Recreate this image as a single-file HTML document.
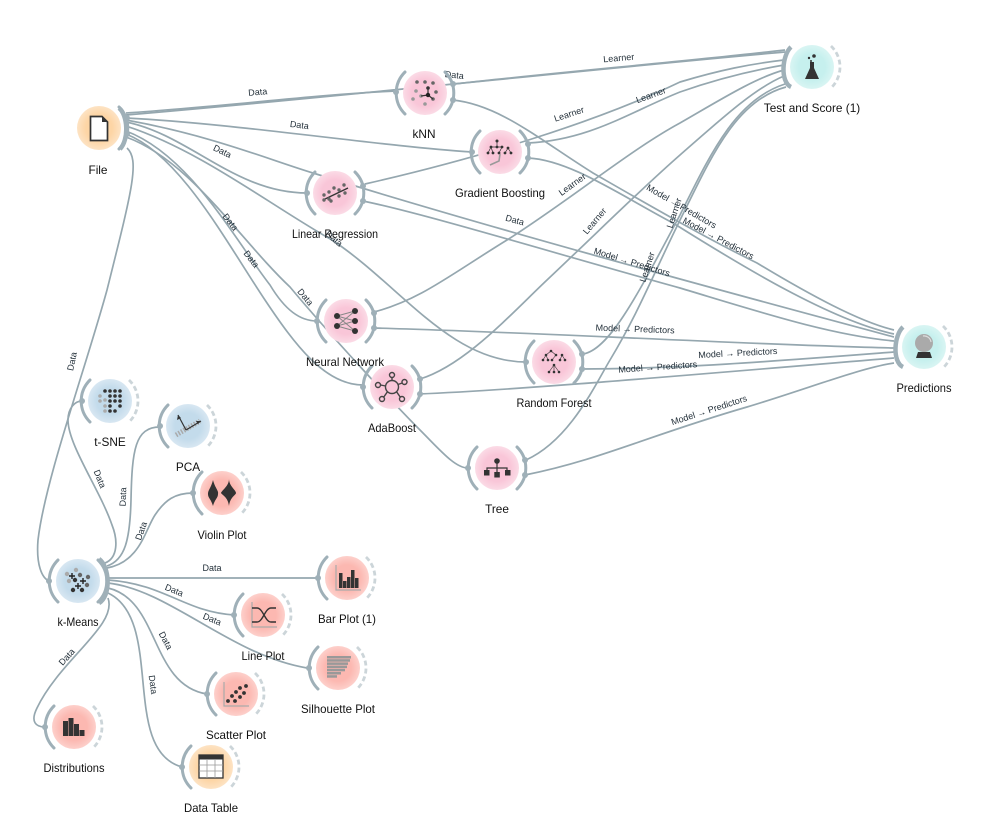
<!DOCTYPE html>
<html><head><meta charset="utf-8"><style>
html,body{margin:0;padding:0;background:#fff}
svg{display:block;filter:blur(.3px)}
text{font-family:"Liberation Sans",sans-serif}
.n{font-size:11.8px;fill:#111;text-anchor:middle}
.l{font-size:9px;fill:#1f2c36;text-anchor:middle}
.c{fill:none;stroke:#95a7af;stroke-width:1.7}
.a{fill:none;stroke:#9fb0b8;stroke-width:3;stroke-linecap:round}
.d{fill:none;stroke:#ccd5d9;stroke-width:2.8;stroke-dasharray:5 3}
.p{fill:#9fb0b8}
.k{fill:#333;stroke:none}
</style></head><body>
<svg width="1004" height="821" viewBox="0 0 1004 821" xmlns="http://www.w3.org/2000/svg">
<defs>
<radialGradient id="go"><stop offset="0.6" stop-color="#fdd5a5"/><stop offset="1" stop-color="#fde3c4"/></radialGradient>
<radialGradient id="gp"><stop offset="0.6" stop-color="#f9c6d8"/><stop offset="1" stop-color="#fbdbe6"/></radialGradient>
<radialGradient id="gc"><stop offset="0.6" stop-color="#c6f0ee"/><stop offset="1" stop-color="#d9f5f3"/></radialGradient>
<radialGradient id="gb"><stop offset="0.6" stop-color="#c3dbeb"/><stop offset="1" stop-color="#d8e7f2"/></radialGradient>
<radialGradient id="gr"><stop offset="0.6" stop-color="#fcb8b1"/><stop offset="1" stop-color="#fdd0cb"/></radialGradient>
<path id="al" class="a" d="M-20,-21A29.5,29.5 0 0 0 -20,21"/>
<path id="ar" class="a" d="M20,-21A29.5,29.5 0 0 1 20,21"/>
<path id="dr" class="d" d="M19,-21A29,29 0 0 1 19,21"/>
</defs>

<!-- connectors: File -->
<path class="c" d="M126,113C230,106 310,95 396,91"/>
<path class="c" d="M126,115C350,96 600,68 785,52"/>
<path class="c" d="M126,118C240,124 370,145 472,152"/>
<path class="c" d="M126,122C190,135 235,193 307,193"/>
<path class="c" d="M126,120C210,135 270,160 313,173C480,225 700,285 894,337"/>
<path class="c" d="M126,126C200,150 270,205 332,240C400,285 450,362 526,362"/>
<path class="c" d="M126,131C190,155 235,240 270,285C285,310 300,321 317,321"/>
<path class="c" d="M126,134C180,155 225,240 265,300C295,345 325,385 363,385"/>
<path class="c" d="M126,137C190,160 240,240 290,287C330,335 395,405 420,430C440,450 455,468 468,468"/>
<path class="c" d="M127,148C140,160 132,190 107,290C85,370 45,480 38,540C36,565 42,578 49,581"/>
<!-- Learner to Test -->
<path class="c" d="M454,84C560,72 680,62 785,50"/>
<path class="c" d="M365,184C470,160 590,125 680,82C720,70 750,64 784,60"/>
<path class="c" d="M528,143C590,140 630,112 680,92C720,78 755,70 784,65"/>
<path class="c" d="M374,312C420,300 450,275 507,240C570,200 630,150 680,123C720,100 755,78 784,70"/>
<path class="c" d="M420,379C465,365 510,315 547,280C600,230 640,190 680,155C720,120 755,88 784,76"/>
<path class="c" d="M583,354C610,350 640,290 680,215C710,155 735,100 785,84"/>
<path class="c" d="M526,460C570,440 595,385 610,360C640,310 655,270 684,212C712,155 737,100 786,87"/>
<!-- Model to Predictions -->
<path class="c" d="M453,100C500,105 540,140 593,173C640,200 700,235 757,263C810,295 860,322 894,330"/>
<path class="c" d="M528,158C570,160 620,195 673,223C740,265 830,320 894,334"/>
<path class="c" d="M363,201C430,215 560,255 680,288C760,312 830,335 894,341"/>
<path class="c" d="M373,328C450,330 540,334 610,337C720,342 810,346 894,348"/>
<path class="c" d="M582,369C680,369 790,360 894,352"/>
<path class="c" d="M418,394C520,390 700,374 894,358"/>
<path class="c" d="M525,475C600,460 650,435 747,407C810,388 860,368 894,363"/>
<!-- k-Means -->
<path class="c" d="M105,563C118,558 118,540 112,525C100,490 68,445 68,420C68,408 75,401 82,401"/>
<path class="c" d="M107,566C125,560 130,540 131,500C132,450 135,427 160,427"/>
<path class="c" d="M107,568C140,562 145,530 155,515C165,500 175,493 193,493"/>
<path class="c" d="M107,578L318,578"/>
<path class="c" d="M108,580C165,584 185,612 234,615"/>
<path class="c" d="M108,583C170,590 230,655 307,668"/>
<path class="c" d="M108,588C160,600 150,685 207,694"/>
<path class="c" d="M108,593C165,620 120,750 182,767"/>
<path class="c" d="M108,598C118,625 60,660 37,708C30,722 36,727 45,727"/>

<!-- connector labels -->
<g class="l">
<text x="0" y="0" transform="translate(258,95) rotate(-5)">Data</text>
<text transform="translate(454,78) rotate(6)">Data</text>
<text transform="translate(299,128) rotate(7)">Data</text>
<text transform="translate(221,154) rotate(26)">Data</text>
<text transform="translate(332,241) rotate(40)">Data</text>
<text transform="translate(228,224) rotate(52)">Data</text>
<text transform="translate(249,261) rotate(52)">Data</text>
<text transform="translate(303,299) rotate(50)">Data</text>
<text transform="translate(514,223) rotate(15)">Data</text>
<text transform="translate(75,362) rotate(-78)">Data</text>
<text transform="translate(97,480) rotate(68)">Data</text>
<text transform="translate(126,497) rotate(-88)">Data</text>
<text transform="translate(144,532) rotate(-70)">Data</text>
<text transform="translate(212,571)">Data</text>
<text transform="translate(173,593) rotate(22)">Data</text>
<text transform="translate(211,622) rotate(22)">Data</text>
<text transform="translate(163,642) rotate(62)">Data</text>
<text transform="translate(150,685) rotate(82)">Data</text>
<text transform="translate(69,659) rotate(-48)">Data</text>
<text transform="translate(619,61) rotate(-5)">Learner</text>
<text transform="translate(570,117) rotate(-18)">Learner</text>
<text transform="translate(652,98) rotate(-20)">Learner</text>
<text transform="translate(574,187) rotate(-36)">Learner</text>
<text transform="translate(597,223) rotate(-50)">Learner</text>
<text transform="translate(677,214) rotate(-72)">Learner</text>
<text transform="translate(650,268) rotate(-72)">Learner</text>
<text transform="translate(680,209) rotate(30)">Model → Predictors</text>
<text transform="translate(717,241) rotate(28)">Model → Predictors</text>
<text transform="translate(631,265) rotate(17)">Model → Predictors</text>
<text transform="translate(635,332) rotate(2)">Model → Predictors</text>
<text transform="translate(738,356) rotate(-3)">Model → Predictors</text>
<text transform="translate(658,370) rotate(-4)">Model → Predictors</text>
<text transform="translate(710,413) rotate(-18)">Model → Predictors</text>
</g>

<!-- File -->
<g transform="translate(99,128)"><circle r="22" fill="url(#go)"/><use href="#ar"/>
<path d="M-8.5,-11.5H3L8.5,-6V12.5H-8.5Z" fill="#fff" stroke="#333" stroke-width="1.7"/><path d="M3,-11.5V-6H8.5Z" fill="#333"/></g>
<circle class="p" cx="127" cy="118" r="3"/><circle class="p" cx="127" cy="134" r="3"/>
<path d="M119,108C128,115 129,140 120,149" fill="none" stroke="#9fb0b8" stroke-width="4.5"/>
<!-- kNN -->
<g transform="translate(425,93)"><circle r="22" fill="url(#gp)"/><use href="#al"/><use href="#ar"/>
<g fill="#666"><circle cx="-8" cy="-11" r="1.8"/><circle cx="0" cy="-11" r="1.8"/><circle cx="8" cy="-10" r="1.8"/><circle cx="11" cy="-1" r="1.8"/><circle cx="8" cy="6" r="1.8"/></g>
<g fill="#999"><circle cx="-9" cy="-2" r="1.8"/><circle cx="-12" cy="6" r="1.8"/><circle cx="-4" cy="3" r="1.8"/><circle cx="0" cy="11" r="1.8"/></g>
<path d="M3,2L3,-5M3,2L-4,3M3,2L8,6" stroke="#333" stroke-width="1.2"/><circle cx="3" cy="2" r="2.2" fill="#222"/><circle cx="3" cy="-5" r="1.8" fill="#333"/></g>
<circle class="p" cx="396" cy="92" r="3"/><circle class="p" cx="453" cy="84" r="3"/><circle class="p" cx="453" cy="100" r="3"/>
<!-- Gradient Boosting -->
<g transform="translate(500,152)"><circle r="22" fill="url(#gp)"/><use href="#al"/><use href="#ar"/>
<g class="k"><circle cx="-3" cy="-11" r="1.5"/><circle cx="-9" cy="-5" r="1.4"/><circle cx="-3" cy="-5" r="1.4"/><circle cx="2" cy="-5" r="1.4"/><circle cx="-12" cy="1" r="1.4"/><circle cx="-7" cy="1" r="1.4"/><circle cx="-1" cy="1" r="1.4"/><circle cx="8" cy="-4" r="1.4"/><circle cx="5" cy="1" r="1.4"/><circle cx="11" cy="1" r="1.4"/></g>
<path d="M-3,-11V-5M-9,-5H2M-9,-5L-12,1M-9,-5L-7,1M2,-5L-1,1M8,-4L5,1M8,-4L11,1" stroke="#333" stroke-width=".7"/>
<path d="M-10,13L-1,9L0,2" fill="none" stroke="#999" stroke-width="1.6"/></g>
<circle class="p" cx="472" cy="152" r="3"/><circle class="p" cx="528" cy="144" r="3"/><circle class="p" cx="528" cy="158" r="3"/>
<!-- Linear Regression -->
<g transform="translate(335,193)"><circle r="22" fill="url(#gp)"/><use href="#al"/><use href="#ar"/>
<path d="M-12,7L13,-5" stroke="#333" stroke-width="1.3"/>
<g fill="#666"><circle cx="-11" cy="2" r="1.7"/><circle cx="-6" cy="-1" r="1.7"/><circle cx="-1" cy="-5" r="1.7"/><circle cx="-6" cy="6" r="1.7"/><circle cx="-11" cy="7" r="1.7"/><circle cx="4" cy="-3" r="1.7"/><circle cx="9" cy="-8" r="1.7"/><circle cx="4" cy="3" r="1.7"/><circle cx="10" cy="0" r="1.7"/><circle cx="-4" cy="8" r="1.7"/></g></g>
<circle class="p" cx="307" cy="193" r="3"/><circle class="p" cx="363" cy="186" r="3"/><circle class="p" cx="363" cy="201" r="3"/>
<!-- Neural Network -->
<g transform="translate(346,321)"><circle r="22" fill="url(#gp)"/><use href="#al"/><use href="#ar"/>
<path d="M-9,-5L9,-10M-9,-5L9,0M-9,-5L9,10M-9,5L9,-10M-9,5L9,0M-9,5L9,10" stroke="#888" stroke-width="1"/>
<g class="k"><circle cx="-9" cy="-5" r="3"/><circle cx="-9" cy="5" r="3"/><circle cx="9" cy="-10" r="3"/><circle cx="9" cy="0" r="3"/><circle cx="9" cy="10" r="3"/></g></g>
<circle class="p" cx="317" cy="321" r="3"/><circle class="p" cx="374" cy="313" r="3"/><circle class="p" cx="374" cy="328" r="3"/>
<!-- Tree -->
<g transform="translate(497,468)"><circle r="22" fill="url(#gp)"/><use href="#al"/><use href="#ar"/>
<circle cy="-7" r="2.8" fill="#333"/><path d="M0,-7V5M-10,5V0H10V5" fill="none" stroke="#333" stroke-width="1.2"/>
<g class="k"><rect x="-13" y="2" width="5.5" height="5.5"/><rect x="-2.7" y="4" width="5.5" height="5.5"/><rect x="8" y="2" width="5.5" height="5.5"/></g></g>
<circle class="p" cx="468" cy="468" r="3"/><circle class="p" cx="525" cy="460" r="3"/><circle class="p" cx="525" cy="475" r="3"/>
<!-- Random Forest -->
<g transform="translate(554,362)"><circle r="22" fill="url(#gp)"/><use href="#al"/><use href="#ar"/>
<g class="k"><circle cx="-3" cy="-11" r="1.3"/><circle cx="-8" cy="-7" r="1.3"/><circle cx="2" cy="-7" r="1.3"/><circle cx="-11" cy="-2" r="1.3"/><circle cx="-6" cy="-2" r="1.3"/><circle cx="-2" cy="-2" r="1.3"/><circle cx="8" cy="-7" r="1.3"/><circle cx="6" cy="-2" r="1.3"/><circle cx="11" cy="-2" r="1.3"/><circle cx="0" cy="3" r="1.3"/><circle cx="-5" cy="10" r="1.3"/><circle cx="0" cy="10" r="1.3"/><circle cx="5" cy="10" r="1.3"/></g>
<path d="M-3,-11L-8,-7M-3,-11L2,-7M-8,-7L-11,-2M-8,-7L-6,-2M2,-7L-2,-2M8,-7L6,-2M8,-7L11,-2M0,3L-5,10M0,3V10M0,3L5,10" stroke="#333" stroke-width=".6"/></g>
<circle class="p" cx="526" cy="362" r="3"/><circle class="p" cx="582" cy="354" r="3"/><circle class="p" cx="582" cy="369" r="3"/>
<!-- AdaBoost -->
<g transform="translate(392,387)"><circle r="22" fill="url(#gp)"/><use href="#al"/><use href="#ar"/>
<g fill="none" stroke="#444" stroke-width="1.4"><circle r="6.5"/><circle cx="0" cy="-12" r="2.5"/><circle cx="12.5" cy="-5" r="2.5"/><circle cx="10" cy="12" r="2.5"/><circle cx="-10" cy="12" r="2.5"/><circle cx="-14" cy="-2" r="2.5"/><path d="M0,-6.5V-9.5M6,-2.5L10.2,-4M4.5,4.7L8.2,10M-4.5,4.7L-8.2,10M-6.3,-1L-11.5,-2"/></g></g>
<circle class="p" cx="363" cy="387" r="3"/><circle class="p" cx="420" cy="379" r="3"/><circle class="p" cx="420" cy="394" r="3"/>
<!-- Test and Score -->
<g transform="translate(812,67)"><circle r="22" fill="url(#gc)"/><use href="#dr"/>
<path d="M-2,-5H2V1L7,12H-7L-2,1Z" fill="#333"/><g class="k"><circle cx="-1" cy="-6" r="1"/><circle cx="-3" cy="-9" r="1.2"/><circle cx="2" cy="-11" r="1.8"/></g></g>
<path d="M791,47C782,55 780,82 791,87" fill="none" stroke="#9fb0b8" stroke-width="4.5"/>
<!-- Predictions -->
<g transform="translate(924,347)"><circle r="22" fill="url(#gc)"/><use href="#dr"/>
<circle cy="-4" r="9" fill="#aaa"/><path d="M-1,-11A7,7 0 0 1 7,-5" stroke="#ddd" stroke-width="1.2" fill="none"/><path d="M-6,5H6L8,11H-8Z" fill="#333"/></g>
<path d="M903,327C894,335 892,362 903,367" fill="none" stroke="#9fb0b8" stroke-width="4.5"/>
<!-- t-SNE -->
<g transform="translate(110,401)"><circle r="22" fill="url(#gb)"/><use href="#al"/><use href="#dr"/>
<g fill="#333"><circle cx="-5" cy="-10" r="1.8"/><circle cx="0" cy="-10" r="1.8"/><circle cx="5" cy="-10" r="1.8"/><circle cx="10" cy="-10" r="1.8"/><circle cx="0" cy="-5" r="1.8"/><circle cx="5" cy="-5" r="1.8"/><circle cx="10" cy="-5" r="1.8"/><circle cx="0" cy="0" r="1.8"/><circle cx="5" cy="0" r="1.8"/><circle cx="10" cy="0" r="1.8"/><circle cx="0" cy="5" r="1.8"/><circle cx="10" cy="5" r="1.8"/><circle cx="0" cy="10" r="1.8"/><circle cx="5" cy="10" r="1.8"/></g>
<g fill="#aaa"><circle cx="-10" cy="-5" r="1.8"/><circle cx="-10" cy="0" r="1.8"/><circle cx="-5" cy="5" r="1.8"/><circle cx="-5" cy="10" r="1.8"/><circle cx="-5" cy="-1" r="1.8"/></g></g>
<circle class="p" cx="82" cy="401" r="3"/>
<!-- PCA -->
<g transform="translate(188,426)"><circle r="22" fill="url(#gb)"/><use href="#al"/><use href="#dr"/>
<path d="M-12,9L12,-5" stroke="#aaa" stroke-width="5" stroke-dasharray="1.5 1.5"/>
<path d="M-2,4L-10,-11M-2,4L13,-5" stroke="#333" stroke-width="1.2"/><path d="M-10,-11L-11,-6L-7,-8ZM13,-5L8,-5L10,-2Z" fill="#333"/></g>
<circle class="p" cx="160" cy="426" r="3"/>
<!-- Violin -->
<g transform="translate(222,493)"><circle r="22" fill="url(#gr)"/><use href="#al"/><use href="#dr"/>
<path d="M-9,-13C-7,-5 -3,-2 -4,1C-4,5 -7,6 -9,13C-11,6 -14,5 -14,1C-14,-3 -11,-5 -9,-13Z" fill="#333"/>
<path d="M7,-14C7,-7 14,-3 14,0C14,2 8,4 7,13C6,4 0,2 -1,0C0,-3 7,-7 7,-14Z" fill="#333"/></g>
<circle class="p" cx="193" cy="493" r="3"/>
<!-- k-Means -->
<g transform="translate(78,581)"><circle r="22" fill="url(#gb)"/><use href="#al"/><use href="#ar"/>
<g fill="#aaa"><circle cx="-11" cy="-7" r="2.2"/><circle cx="-2" cy="-11" r="2.2"/><circle cx="-9" cy="0" r="2.2"/></g>
<g fill="#666"><circle cx="2" cy="-6" r="2.2"/><circle cx="10" cy="-4" r="2.2"/><circle cx="9" cy="4" r="2.2"/></g>
<g fill="#333"><circle cx="-3" cy="-1" r="2.2"/><circle cx="-5" cy="9" r="2.2"/><circle cx="4" cy="9" r="2.2"/></g>
<path d="M-9,-5H-3M-6,-8V-2M2,0H8M5,-3V3M-3,5H3M0,2V8" stroke="#222" stroke-width="1.4"/></g>
<circle class="p" cx="49" cy="581" r="3"/>
<path d="M99,559C110,567 111,596 99,603" fill="none" stroke="#9fb0b8" stroke-width="4.5"/>
<!-- Bar Plot -->
<g transform="translate(347,578)"><circle r="22" fill="url(#gr)"/><use href="#al"/><use href="#dr"/>
<path d="M-11,-13V12H14" fill="none" stroke="#aaa" stroke-width="1.2"/>
<g class="k"><rect x="-8" y="-5" width="3.5" height="15"/><rect x="-4" y="3" width="3.5" height="7"/><rect x="0" y="-1" width="3.5" height="11"/><rect x="4" y="-8" width="3.5" height="18"/><rect x="8" y="0" width="3.5" height="10"/></g></g>
<circle class="p" cx="318" cy="578" r="3"/>
<!-- Line Plot -->
<g transform="translate(263,615)"><circle r="22" fill="url(#gr)"/><use href="#al"/><use href="#dr"/>
<path d="M-11,-13V12H14" fill="none" stroke="#aaa" stroke-width="1.2"/>
<path d="M-11,-7H-6C0,-7 2,7 8,7H13M-11,7H-6C0,7 2,-7 8,-7H13" fill="none" stroke="#333" stroke-width="1.4"/></g>
<circle class="p" cx="234" cy="615" r="3"/>
<!-- Silhouette -->
<g transform="translate(338,668)"><circle r="22" fill="url(#gr)"/><use href="#al"/><use href="#dr"/>
<g fill="#999"><rect x="-11" y="-12" width="24" height="2.5"/><rect x="-11" y="-8.8" width="23" height="2.5"/><rect x="-11" y="-5.6" width="21" height="2.5"/><rect x="-11" y="-2.4" width="20" height="2.5"/><rect x="-11" y="0.8" width="18" height="2.5"/><rect x="-11" y="4" width="14" height="2.5"/><rect x="-11" y="7.2" width="10" height="2.5"/></g></g>
<circle class="p" cx="309" cy="668" r="3"/>
<!-- Scatter -->
<g transform="translate(236,694)"><circle r="22" fill="url(#gr)"/><use href="#al"/><use href="#dr"/>
<path d="M-12,-12V12H13" fill="none" stroke="#aaa" stroke-width="1.2"/>
<g fill="#333"><circle cx="-8" cy="7" r="1.9"/><circle cx="-4" cy="2" r="1.9"/><circle cx="-1" cy="7" r="1.9"/><circle cx="0" cy="-2" r="1.9"/><circle cx="4" cy="3" r="1.9"/><circle cx="4" cy="-6" r="1.9"/><circle cx="8" cy="-1" r="1.9"/><circle cx="10" cy="-8" r="1.9"/></g></g>
<circle class="p" cx="207" cy="694" r="3"/>
<!-- Distributions -->
<g transform="translate(74,727)"><circle r="22" fill="url(#gr)"/><use href="#al"/><use href="#dr"/>
<g class="k"><rect x="-11" y="-6" width="5" height="15"/><rect x="-5.5" y="-9" width="5" height="18"/><rect x="0" y="-3" width="5" height="12"/><rect x="5.5" y="3" width="5" height="6"/></g></g>
<circle class="p" cx="45" cy="727" r="3"/>
<!-- Data Table -->
<g transform="translate(211,767)"><circle r="22" fill="url(#go)"/><use href="#al"/><use href="#dr"/>
<rect x="-12" y="-12" width="24" height="23" fill="#fff" stroke="#333" stroke-width="1.3"/><rect x="-12" y="-12" width="24" height="4.5" fill="#333"/>
<path d="M-4,-7V11M4,-7V11M-12,-2H12M-12,4H12" stroke="#999" stroke-width=".8"/></g>
<circle class="p" cx="182" cy="767" r="3"/>

<!-- node labels -->
<g class="n">
<text x="98" y="174">File</text>
<text x="424" y="138">kNN</text>
<text x="500" y="197" textLength="90" lengthAdjust="spacingAndGlyphs">Gradient Boosting</text>
<text x="335" y="238" textLength="86" lengthAdjust="spacingAndGlyphs">Linear Regression</text>
<text x="812" y="112">Test and Score (1)</text>
<text x="924" y="392" textLength="55" lengthAdjust="spacingAndGlyphs">Predictions</text>
<text x="345" y="366" textLength="78" lengthAdjust="spacingAndGlyphs">Neural Network</text>
<text x="392" y="432" textLength="48" lengthAdjust="spacingAndGlyphs">AdaBoost</text>
<text x="554" y="407" textLength="75" lengthAdjust="spacingAndGlyphs">Random Forest</text>
<text x="497" y="513">Tree</text>
<text x="110" y="446">t-SNE</text>
<text x="188" y="471">PCA</text>
<text x="222" y="539" textLength="49" lengthAdjust="spacingAndGlyphs">Violin Plot</text>
<text x="78" y="626" textLength="41" lengthAdjust="spacingAndGlyphs">k-Means</text>
<text x="347" y="623" textLength="58" lengthAdjust="spacingAndGlyphs">Bar Plot (1)</text>
<text x="263" y="660" textLength="43" lengthAdjust="spacingAndGlyphs">Line Plot</text>
<text x="338" y="713" textLength="74" lengthAdjust="spacingAndGlyphs">Silhouette Plot</text>
<text x="236" y="739" textLength="60" lengthAdjust="spacingAndGlyphs">Scatter Plot</text>
<text x="74" y="772" textLength="61" lengthAdjust="spacingAndGlyphs">Distributions</text>
<text x="211" y="812" textLength="54" lengthAdjust="spacingAndGlyphs">Data Table</text>
</g>
</svg>
</body></html>
